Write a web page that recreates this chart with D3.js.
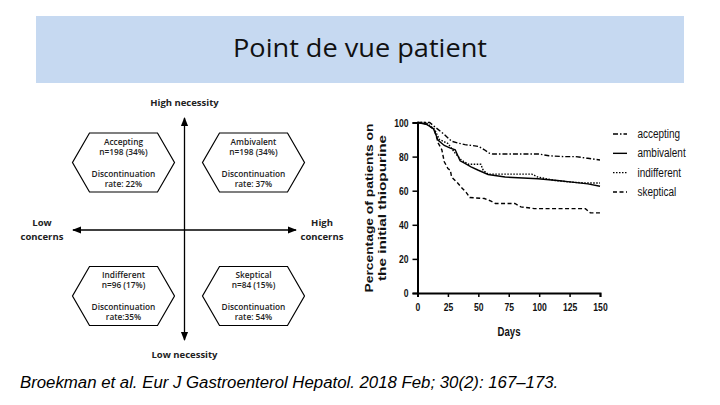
<!DOCTYPE html>
<html><head><meta charset="utf-8">
<script src="https://cdn.jsdelivr.net/npm/d3@7"></script>
<style>html,body{margin:0;padding:0;background:#fff;}svg{display:block;}</style>
</head><body>
<svg id="c" width="720" height="405"></svg>
<script>
// ---- Data ----
const title = "Point de vue patient";
const citation = "Broekman et al. Eur J Gastroenterol Hepatol. 2018 Feb; 30(2): 167\u2013173.";

const quadrantNames = ["Accepting", "Ambivalent", "Indifferent", "Skeptical"];
const quadrantN = ["n=198 (34%)", "n=198 (34%)", "n=96 (17%)", "n=84 (15%)"];
const quadrantRates = ["rate: 22%", "rate: 37%", "rate:35%", "rate: 54%"];

const seriesNames = ["accepting", "ambivalent", "indifferent", "skeptical"];
const acceptingDays = [0, 10, 15, 22, 28, 33, 39, 45, 50, 55, 59, 62, 100, 108, 120, 130, 140, 150];
const acceptingVals = [100, 100, 97, 93, 89, 88, 87, 86.5, 86, 84, 82, 81.5, 81.5, 80.5, 80, 80, 79, 78];
const ambivalentDays = [0, 7, 13, 17, 22, 27, 31, 35, 39, 44, 50, 58, 72, 99, 115, 127, 140, 150];
const ambivalentVals = [100, 99, 96.5, 89.5, 86.5, 85, 84, 77.5, 76, 74, 72, 69.5, 68, 67, 66, 65, 64, 62.6];
const indifferentDays = [0, 7, 14, 18, 25, 31, 36, 42, 52, 54, 58, 94, 99, 113, 127, 140, 150];
const indifferentVals = [100, 100, 96, 90, 87.7, 82, 78, 75.5, 75.5, 72, 69.7, 69.7, 68, 66, 65, 64.5, 64.5];
const skepticalDays = [0, 8, 14, 17, 20, 22, 25, 27, 28, 33, 36, 40, 43, 55, 60, 64, 80, 85, 96, 138, 142, 150];
const skepticalVals = [100, 99, 95.5, 88, 84, 77, 73, 72, 68, 64.5, 62, 59, 56, 55.4, 54, 52.5, 52.5, 50.5, 49.5, 49.5, 47, 47];
const xTicks = [0, 25, 50, 75, 100, 125, 150];
const yTicks = [0, 20, 40, 60, 80, 100];

const dashes = ["5,2,1.5,2", null, "1.5,1.5", "4,2.5"];

const svg = d3.select("#c");
// squeeze text horizontally (along its own direction) by a factor
function squeeze(sel, f) {
  sel.each(function () {
    const len = this.getComputedTextLength();
    d3.select(this).attr("textLength", len * f).attr("lengthAdjust", "spacingAndGlyphs");
  });
}

// ---- Banner ----
svg.append("rect").attr("x", 36).attr("y", 16).attr("width", 648).attr("height", 67).attr("fill", "#c6d9f1");
const tt = svg.append("text").attr("x", 360).attr("y", 56.5).attr("text-anchor", "middle")
  .attr("font-family", "'Open Sans', sans-serif").attr("font-size", 25).attr("fill", "#111").text(title);
tt.attr("textLength", 254).attr("lengthAdjust", "spacingAndGlyphs");

// ---- Left diagram ----
const dg = svg.append("g").attr("font-family", "'Open Sans', sans-serif").attr("fill", "#222");
const defs = svg.append("defs");
defs.append("marker").attr("id", "arr").attr("viewBox", "0 0 10 10").attr("refX", 9).attr("refY", 5)
  .attr("markerWidth", 7).attr("markerHeight", 7).attr("orient", "auto-start-reverse")
  .append("path").attr("d", "M0,1 L10,5 L0,9 Z").attr("fill", "#000");
const cx = 184.5, cy = 230;
dg.append("line").attr("x1", cx).attr("y1", 340).attr("x2", cx).attr("y2", 118)
  .attr("stroke", "#000").attr("stroke-width", 1.3).attr("marker-end", "url(#arr)").attr("marker-start", "url(#arr)");
dg.append("line").attr("x1", 73).attr("y1", cy).attr("x2", 296).attr("y2", cy)
  .attr("stroke", "#000").attr("stroke-width", 1.3).attr("marker-end", "url(#arr)").attr("marker-start", "url(#arr)");
const lbl = (x, y, t) => dg.append("text").attr("x", x).attr("y", y).attr("text-anchor", "middle")
  .attr("font-size", 9.5).attr("font-weight", 700).attr("fill", "#222").text(t);
lbl(cx, 106, "High necessity");
lbl(cx, 358, "Low necessity");
lbl(42, 226, "Low"); lbl(42, 240, "concerns");
lbl(322, 226, "High"); lbl(322, 240, "concerns");

const hexCenters = [[123.5, 162.5], [253.5, 162.5], [123.5, 296], [253.5, 296]];
hexCenters.forEach((c, i) => {
  const [hx, hy] = c, hw = 51, hh = 29.5, ins = 17;
  const pts = [[hx - hw + ins, hy - hh], [hx + hw - ins, hy - hh], [hx + hw, hy], [hx + hw - ins, hy + hh], [hx - hw + ins, hy + hh], [hx - hw, hy]];
  dg.append("polygon").attr("points", pts.map(p => p.join(",")).join(" "))
    .attr("fill", "#fff").attr("stroke", "#000").attr("stroke-width", 1.2);
  const lines = [[quadrantNames[i], -18], [quadrantN[i], -8], ["Discontinuation", 14], [quadrantRates[i], 24]];
  lines.forEach(([t, dy]) => dg.append("text").attr("x", hx).attr("y", hy + dy).attr("text-anchor", "middle")
    .attr("font-size", 8.3).attr("font-weight", 600).attr("fill", "#222").text(t));
});

// ---- Right chart ----
const FF = "'Liberation Sans', Arial, sans-serif";
const x = d3.scaleLinear().domain([0, 150]).range([417.5, 600]);
const y = d3.scaleLinear().domain([0, 100]).range([293, 122.5]);
const cg = svg.append("g");
const xAx = cg.append("g").attr("transform", `translate(0,${y(0)})`)
  .call(d3.axisBottom(x).tickValues(xTicks).tickSize(4).tickPadding(6));
const yAx = cg.append("g").attr("transform", `translate(${x(0)},0)`)
  .call(d3.axisLeft(y).tickValues(yTicks).tickSize(5).tickPadding(4));
[xAx, yAx].forEach(a => {
  a.select(".domain").attr("stroke-width", 2).attr("stroke", "#000");
  a.selectAll(".tick line").attr("stroke-width", 1.5).attr("stroke", "#000");
  a.selectAll("text").attr("font-family", FF).attr("font-size", 11)
    .attr("font-weight", 700).attr("fill", "#111");
  squeeze(a.selectAll("text"), 0.78);
});
const days = cg.append("text").attr("x", 509).attr("y", 336).attr("text-anchor", "middle")
  .attr("font-family", FF).attr("font-size", 12).attr("font-weight", 700).attr("fill", "#111").text("Days");
squeeze(days, 0.8);
const yl = cg.append("text").attr("transform", "translate(373,208) rotate(-90)").attr("text-anchor", "middle")
  .attr("font-family", FF).attr("font-size", 11).attr("font-weight", 700).attr("fill", "#111");
yl.append("tspan").attr("x", 0).attr("dy", 0).attr("textLength", 169).attr("lengthAdjust", "spacingAndGlyphs").text("Percentage of patients on");
yl.append("tspan").attr("x", 0).attr("dy", 12.5).attr("textLength", 146).attr("lengthAdjust", "spacingAndGlyphs").text("the initial thiopurine");

const series = [
  [acceptingDays, acceptingVals], [ambivalentDays, ambivalentVals],
  [indifferentDays, indifferentVals], [skepticalDays, skepticalVals]
];
const line = d3.line().x(d => x(d[0])).y(d => y(d[1]));
series.forEach((s, i) => {
  const pts = s[0].map((d, j) => [d, s[1][j]]);
  cg.append("path").attr("d", line(pts)).attr("fill", "none").attr("stroke", "#000")
    .attr("stroke-width", 1.4).attr("stroke-dasharray", dashes[i]);
});

// legend
const legY = d3.scalePoint().domain(seriesNames).range([134, 192]);
seriesNames.forEach((n, i) => {
  cg.append("line").attr("x1", 613).attr("x2", 627).attr("y1", legY(n)).attr("y2", legY(n))
    .attr("stroke", "#000").attr("stroke-width", 1.4).attr("stroke-dasharray", dashes[i]);
  const t = cg.append("text").attr("x", 637.5).attr("y", legY(n) + 4).attr("font-family", FF)
    .attr("font-size", 12).attr("fill", "#111").text(n);
  squeeze(t, 0.83);
});

// ---- Citation ----
svg.append("text").attr("x", 20).attr("y", 388).attr("font-family", FF)
  .attr("font-style", "italic").attr("font-size", 16.8).attr("fill", "#000").text(citation);
</script>
</body></html>
